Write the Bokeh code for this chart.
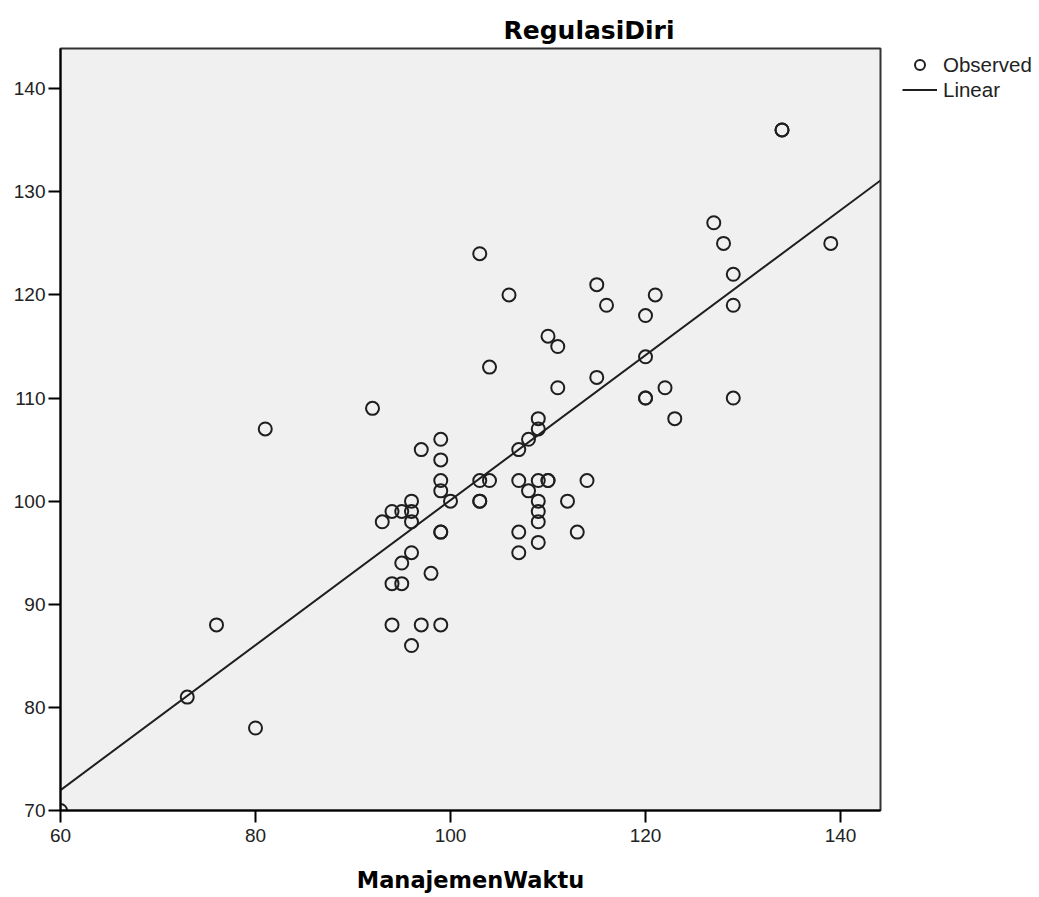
from bokeh.plotting import figure
from bokeh.models import Range1d, FixedTicker, Legend, LegendItem, ColumnDataSource
from bokeh.embed import file_html
from bokeh.resources import INLINE

# Observed data (ManajemenWaktu, RegulasiDiri)
manajemen_waktu = [60, 73, 76, 80, 81, 92, 93, 94, 94, 94, 95, 95, 95, 96, 96, 96, 96, 96,
                   97, 97, 98, 99, 99, 99, 99, 99, 99, 99, 100, 103, 103, 103, 103, 104, 104,
                   106, 107, 107, 107, 107, 108, 108, 109, 109, 109, 109, 109, 109, 109, 110,
                   110, 110, 111, 111, 112, 113, 114, 115, 115, 116, 120, 120, 120, 120, 121,
                   122, 123, 127, 128, 129, 129, 129, 134, 134, 139]
regulasi_diri = [70, 81, 88, 78, 107, 109, 98, 99, 92, 88, 99, 94, 92, 100, 99, 98, 95, 86,
                 105, 88, 93, 106, 104, 102, 101, 97, 97, 88, 100, 124, 102, 100, 100, 113, 102,
                 120, 105, 102, 97, 95, 106, 101, 108, 107, 102, 100, 99, 98, 96, 116,
                 102, 102, 115, 111, 100, 97, 102, 121, 112, 119, 118, 114, 110, 110, 120,
                 111, 108, 127, 125, 122, 119, 110, 136, 136, 125]

# Linear fit
fit_intercept = 29.8
fit_slope = 0.703
x_ticks = [60, 80, 100, 120, 140]
y_ticks = [70, 80, 90, 100, 110, 120, 130, 140]
x_min, x_max = 60, 144.1
y_min, y_max = 70, 143.9

line_x = [x_min, x_max]
line_y = [fit_intercept + fit_slope * v for v in line_x]

p = figure(frame_width=820, frame_height=762, output_backend="svg", toolbar_location=None,
           x_range=Range1d(x_min, x_max), y_range=Range1d(y_min, y_max),
           min_border_left=60, min_border_right=159, min_border_top=48, min_border_bottom=87)

p.background_fill_color = "#f0f0f0"
p.border_fill_color = "white"
p.outline_line_color = "#333333"
p.outline_line_width = 2
p.xgrid.visible = False
p.ygrid.visible = False

src = ColumnDataSource(data=dict(x=manajemen_waktu, y=regulasi_diri))
pts = p.scatter("x", "y", source=src, size=13, fill_color=None, line_color="#1e1e1e", line_width=2)
ln = p.line(line_x, line_y, line_color="#1e1e1e", line_width=2)

for ax in (p.xaxis[0], p.yaxis[0]):
    ax.axis_line_color = "black"
    ax.axis_line_width = 2
    ax.major_tick_line_color = "black"
    ax.major_tick_line_width = 2
    ax.major_tick_out = 12
    ax.major_tick_in = 0
    ax.minor_tick_line_color = None
    ax.major_label_text_font = "Liberation Sans"
    ax.major_label_text_font_size = "19px"
    ax.major_label_text_color = "#222222"

p.xaxis[0].ticker = FixedTicker(ticks=x_ticks)
p.yaxis[0].ticker = FixedTicker(ticks=y_ticks)
p.xaxis[0].major_label_standoff = 6
p.yaxis[0].major_label_standoff = 3
p.xaxis[0].axis_label = "ManajemenWaktu"
p.xaxis[0].axis_label_text_font = "DejaVu Sans"
p.xaxis[0].axis_label_text_font_style = "bold"
p.xaxis[0].axis_label_text_font_size = "22.5px"
p.xaxis[0].axis_label_text_color = "black"
p.xaxis[0].axis_label_standoff = 22

p.title.text = "RegulasiDiri"
p.title.text_font = "DejaVu Sans"
p.title.text_font_style = "bold"
p.title.text_font_size = "25px"
p.title.text_color = "black"
p.title.align = "left"
p.title.offset = 443
p.title.standoff = 8

legend = Legend(items=[LegendItem(label="Observed", renderers=[pts]),
                       LegendItem(label="Linear", renderers=[ln])],
                location=(22, 708), orientation="vertical")
legend.padding = 0
legend.margin = 0
legend.border_line_color = None
legend.background_fill_alpha = 0.0
legend.glyph_width = 35
legend.glyph_height = 25
legend.label_height = 25
legend.label_standoff = 6
legend.spacing = 0
legend.label_text_font = "Liberation Sans"
legend.label_text_font_size = "20.5px"
legend.label_text_color = "#222222"
p.add_layout(legend, "right")

open("out.html", "w").write(file_html(p, INLINE))
